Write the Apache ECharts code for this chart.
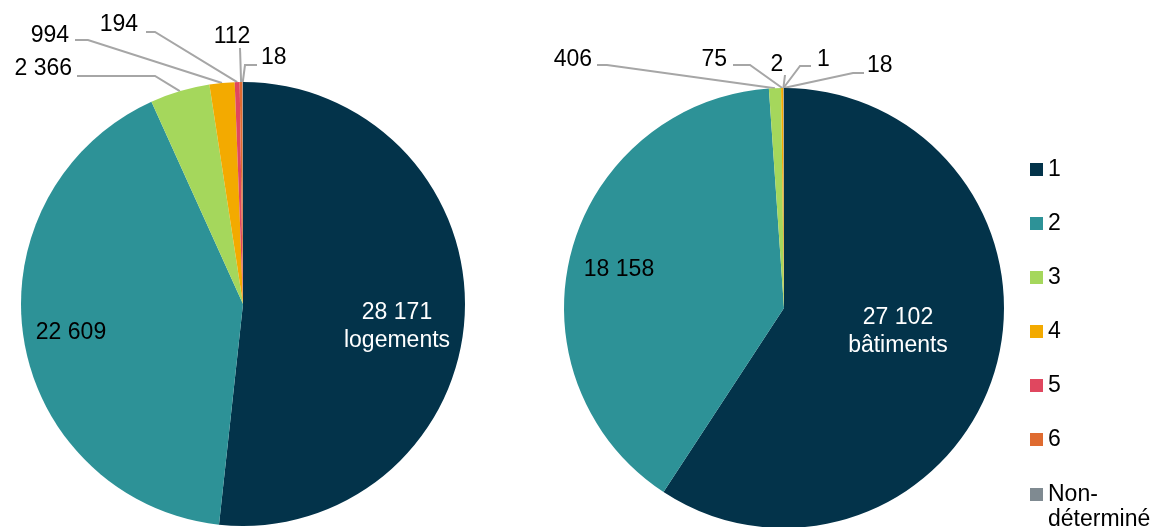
<!DOCTYPE html>
<html>
<head>
<meta charset="utf-8">
<script src="https://cdn.jsdelivr.net/npm/echarts@6/dist/echarts.min.js"></script>
<style>
  html, body { margin: 0; padding: 0; background: #ffffff; }
  #chart { width: 1155px; height: 527px; }
</style>
</head>
<body>
<div id="chart"></div>
<script>
// categories (legend) and values of each pie
var categories = ['1', '2', '3', '4', '5', '6', 'Non-déterminé'];
var logements = [28171, 22609, 2366, 994, 194, 112, 18];
var batiments = [27102, 18158, 406, 75, 2, 1, 18];
var colors = ['#03334a', '#2d9297', '#a5d75c', '#f3aa00', '#e0475f', '#df6b30', '#7f8a91'];

// where each label sits, and the bend of its leader line (null = no line)
var labelPos = [
  [ // left pie (logements)
    { x: 397, y: 327, align: 'center', line: null },
    { x: 71, y: 333, align: 'center', line: null },
    { x: 72, y: 69, align: 'right', line: [[155, 76], [77, 76]] },
    { x: 69, y: 36, align: 'right', line: [[88, 40], [75, 40]] },
    { x: 138, y: 25, align: 'right', line: [[155, 32], [146, 32]] },
    { x: 232, y: 37, align: 'center', line: [[240, 48]] },
    { x: 261, y: 58, align: 'left', line: [[245, 65], [257, 65]] }
  ],
  [ // right pie (bâtiments)
    { x: 898, y: 332, align: 'center', line: null },
    { x: 619, y: 270, align: 'center', line: null },
    { x: 592, y: 60, align: 'right', line: [[607, 65], [597, 65]] },
    { x: 727, y: 60, align: 'right', line: [[750, 65], [733, 65]] },
    { x: 777, y: 65, align: 'center', line: [[785, 75]] },
    { x: 817, y: 60, align: 'left', line: [[800, 66], [811, 66]] },
    { x: 867, y: 66, align: 'left', line: [[853, 73], [864, 73]] }
  ]
];

var FONT = "'Liberation Sans', Arial, sans-serif";

function fmt(v) {
  return String(v).replace(/\B(?=(\d{3})+(?!\d))/g, ' ');
}

function buildData(values, unit) {
  var t = [];
  for (var i = 0; i < values.length; i++) {
    var item = {
      name: categories[i],
      value: values[i],
      itemStyle: { color: colors[i] }
    };
    if (i == 0) {
      item.label = { color: '#ffffff', formatter: fmt(values[i]) + '\n' + unit };
      item.labelLine = { show: false };
    } else if (i == 1) {
      item.label = { color: '#000000' };
      item.labelLine = { show: false };
    }
    t.push(item);
  }
  return t;
}

function makeLayout(seriesIdx) {
  return function (params) {
    var p = labelPos[seriesIdx][params.dataIndex];
    var res = { x: p.x, y: p.y, align: p.align, verticalAlign: 'middle' };
    if (p.line && params.labelLinePoints) {
      var pts = [params.labelLinePoints[0].slice()];
      for (var k = 0; k < p.line.length; k++) pts.push(p.line[k]);
      res.labelLinePoints = pts;
    }
    return res;
  };
}

function pieSeries(name, values, unit, center, radius, idx) {
  return {
    name: name,
    type: 'pie',
    center: center,
    radius: radius,
    startAngle: 90,
    clockwise: true,
    avoidLabelOverlap: false,
    silent: true,
    itemStyle: { borderWidth: 0 },
    label: {
      show: true,
      position: 'outside',
      fontFamily: FONT,
      fontSize: 23,
      lineHeight: 28,
      color: '#000000',
      formatter: function (p) { return fmt(p.value); }
    },
    labelLine: {
      show: true,
      length: 10,
      length2: 10,
      lineStyle: { color: '#a6a6a6', width: 2 }
    },
    labelLayout: makeLayout(idx),
    data: buildData(values, unit)
  };
}

var legendBase = {
  orient: 'vertical',
  left: 1030,
  height: 600,
  padding: 0,
  itemWidth: 13,
  itemHeight: 13,
  itemGap: 31,
  icon: 'rect',
  selectedMode: false,
  textStyle: { fontFamily: FONT, fontSize: 23, color: '#000000' }
};

var myChart = echarts.init(document.getElementById('chart'), null, { renderer: 'canvas' });

var option = {
  backgroundColor: '#ffffff',
  animation: false,
  legend: [
    echarts.util.extend({ top: 158, data: categories.slice(0, 6) }, legendBase),
    // last entry wraps on two lines, first line level with the swatch
    // (empty leading line keeps "Non-" on the swatch's middle)
    echarts.util.extend({
      top: 457,
      formatter: function (name) { return '\n' + name.replace('-', '-\n'); },
      data: [{ name: categories[6], textStyle: { lineHeight: 25 } }]
    }, legendBase)
  ],
  series: [
    pieSeries('logements', logements, 'logements', [243, 304], 222, 0),
    pieSeries('bâtiments', batiments, 'bâtiments', [784, 308], 220, 1)
  ]
};

myChart.setOption(option);
</script>
</body>
</html>
